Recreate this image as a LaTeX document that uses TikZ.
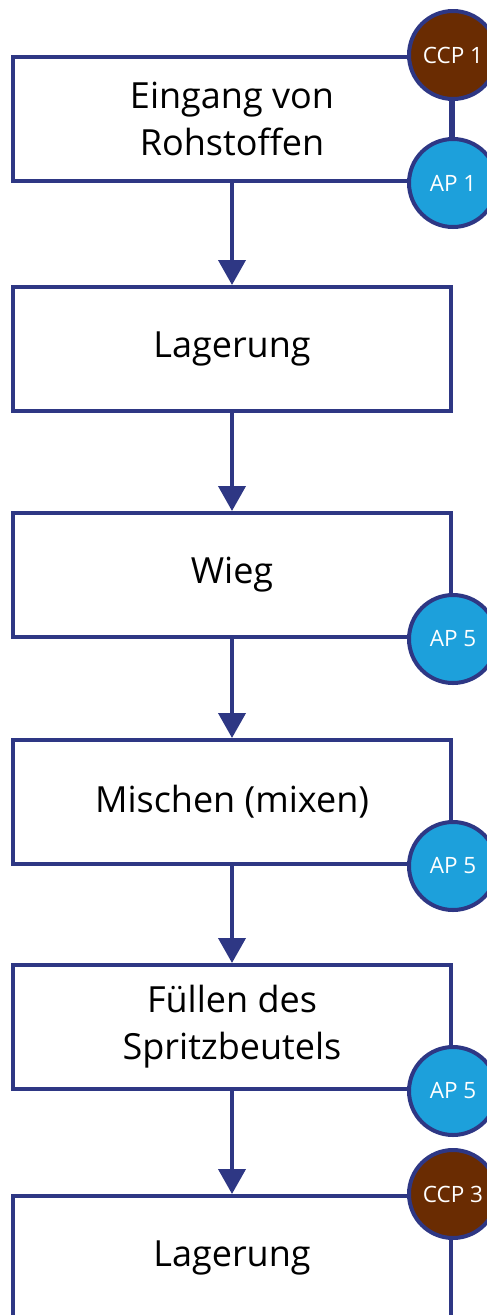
\documentclass[tikz,border=0pt]{standalone}
\usepackage{fontspec}
\setmainfont{Open Sans}
\usetikzlibrary{arrows.meta}
\definecolor{navy}{HTML}{2E3784}
\definecolor{ccpbrown}{HTML}{6A2C02}
\definecolor{apblue}{HTML}{1DA0DB}
\tikzset{
  x=1pt, y=-1pt,
  steptext/.style={font=\fontsize{36}{47}\selectfont, align=center, text=black},
  stepbox/.style={steptext, draw=navy, line width=4pt, minimum width=438pt, minimum height=124pt,
    inner sep=0pt},
  flow/.style={draw=navy, line width=4pt, -{Triangle[width=27pt,length=25pt]}},
  mark circle/.style={circle, draw=navy, line width=4pt, minimum size=88pt, inner sep=0pt,
    text=white, font=\fontsize{22.5}{26}\selectfont},
  ccp/.style={mark circle, fill=ccpbrown},
  ap/.style={mark circle, fill=apblue},
  link/.style={draw=navy, line width=4pt}
}
\begin{document}
\begin{tikzpicture}
\useasboundingbox (0,0) rectangle (487,1315);
\clip (0,0) rectangle (487,1315);
% process steps
\node[stepbox] (s1) at (232,119) {Eingang von\\Rohstoffen};
\node[stepbox] (s2) at (232,349) {Lagerung};
\node[stepbox] (s3) at (232,575) {Wieg};
\node[stepbox] (s4) at (232,802) {Mischen (mixen)};
\node[stepbox] (s5) at (232,1027) {Füllen des\\Spritzbeutels};
\node[stepbox, minimum height=150pt, anchor=north] (s6) at (232,1194) {};
\node[steptext] (s6label) at (232,1258) {Lagerung};
% flow arrows
\draw[flow] (s1.south) -- (s2.north);
\draw[flow] (s2.south) -- (s3.north);
\draw[flow] (s3.south) -- (s4.north);
\draw[flow] (s4.south) -- (s5.north);
\draw[flow] (s5.south) -- (s6.north);
% control points
\node[ccp] (ccp1) at (s1.north east) {CCP 1};
\node[ap] (ap1) at (s1.south east) {AP 1};
\draw[link] (ccp1) -- (ap1);
\node[ap] (ap5a) at (s3.south east) {AP 5};
\node[ap] (ap5b) at (s4.south east) {AP 5};
\node[ap] (ap5c) at (s5.south east) {AP 5};
\node[ccp] (ccp3) at (s6.north east) {CCP 3};
\end{tikzpicture}
\end{document}
